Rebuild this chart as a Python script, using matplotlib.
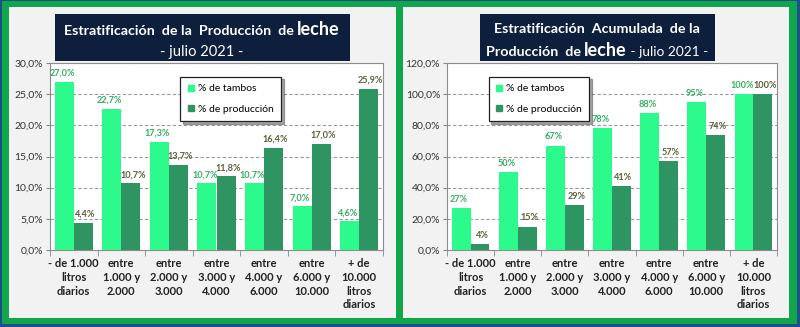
import numpy as np
import matplotlib
matplotlib.use('Agg')
import matplotlib.pyplot as plt
from matplotlib.patches import Rectangle
from matplotlib.lines import Line2D

plt.rcParams['font.family'] = ['Lato', 'DejaVu Sans']

# datos
categorias = ['- de 1.000\nlitros\ndiarios', 'entre\n1.000 y\n2.000', 'entre\n2.000 y\n3.000',
              'entre\n3.000 y\n4.000', 'entre\n4.000 y\n6.000', 'entre\n6.000 y\n10.000',
              '+ de\n10.000\nlitros\ndiarios']
tambos = [27.0, 22.7, 17.3, 10.7, 10.7, 7.0, 4.6]
produccion = [4.4, 10.7, 13.7, 11.8, 16.4, 17.0, 25.9]
tambos_acum = [27, 50, 67, 78, 88, 95, 100]
produccion_acum = [4, 15, 29, 41, 57, 74, 100]
series = ['% de tambos', '% de producción']

# colores
AZUL = '#1d4f8c'
VERDE_MARCO = '#0fa64c'
GRIS = '#f2f2f2'
NAVY = '#0e1f3d'
CLARO = '#2cfa8c'
OSCURO = '#2e9462'
TXT_CLARO = '#33b060'
TXT_OSCURO = '#5e5e3a'

W, H = 800, 327
fig = plt.figure(figsize=(W / 100, H / 100), dpi=100, facecolor=AZUL)


def caja(x0, y0, x1, y1):
    return [x0 / W, 1 - y1 / H, (x1 - x0) / W, (y1 - y0) / H]


def rect(x0, y0, x1, y1, color):
    fig.add_artist(Rectangle((x0 / W, 1 - y1 / H), (x1 - x0) / W, (y1 - y0) / H,
                             transform=fig.transFigure, facecolor=color,
                             edgecolor='none', zorder=0))


# marcos
rect(2, 1, 797, 324, VERDE_MARCO)
rect(9, 7, 396, 318, GRIS)
rect(403, 7, 789, 318, GRIS)
rect(55, 14, 350, 61, NAVY)
rect(480, 14, 715, 61, NAVY)

renderer = fig.canvas.get_renderer()


def linea(partes, xc, y):
    # escribe trozos de texto seguidos, centrados en xc (px)
    textos = []
    for s, kw in partes:
        t = fig.text(0, 1 - y / H, s, color='white', va='baseline', ha='left', **kw)
        textos.append(t)
    anchos = [t.get_window_extent(renderer).width for t in textos]
    x = xc - sum(anchos) / 2
    for t, a in zip(textos, anchos):
        t.set_x(x / W)
        x += a


linea([('Estratificación  de la  Producción  de ', dict(fontsize=10.3, fontweight='bold')),
       ('leche', dict(fontsize=13, fontweight='bold'))], 202, 35)
linea([('- julio 2021 -', dict(fontsize=10.5))], 202, 56)
linea([('Estratificación  Acumulada  de la', dict(fontsize=10.3, fontweight='bold'))], 597, 33)
linea([('Producción  de ', dict(fontsize=10.3, fontweight='bold')),
       ('leche', dict(fontsize=13, fontweight='bold')),
       (' - julio 2021 -', dict(fontsize=9.8))], 597, 56)


def panel(pos, t, p, ymax, paso, fmt_eje, fmt_dato, leg_x):
    ax = fig.add_axes(caja(*pos))
    ax.set_facecolor('white')
    x = np.arange(len(categorias))
    b1 = ax.bar(x - 0.2, t, 0.4, color=CLARO, zorder=3)
    b2 = ax.bar(x + 0.2, p, 0.4, color=OSCURO, zorder=3)
    for barras, vals, c, dx in ((b1, t, TXT_CLARO, -1.5), (b2, p, TXT_OSCURO, 1.5)):
        for b, v in zip(barras, vals):
            ax.annotate(fmt_dato(v), (b.get_x() + b.get_width() / 2, v),
                        xytext=(dx, 3), textcoords='offset points', ha='center',
                        va='bottom', fontsize=6.6, fontweight='bold', color=c, zorder=5)
    ax.set_xlim(-0.5, len(categorias) - 0.5)
    ax.set_ylim(0, ymax)
    ticks = np.arange(0, ymax + paso / 2, paso)
    ax.set_yticks(ticks)
    ax.set_yticklabels([fmt_eje(v) for v in ticks], fontsize=7.5, color='#333333')
    ax.yaxis.grid(True, color='#999999', linestyle=(0, (3, 2)), linewidth=0.8, zorder=1)
    ax.set_axisbelow(True)
    ax.set_xticks(x)
    ax.set_xticklabels(categorias, fontsize=8, fontweight='bold', color='#222222',
                       linespacing=1.3)
    ax.tick_params(axis='x', length=0, pad=6)
    ax.set_xticks(np.arange(-0.5, len(categorias)), minor=True)
    ax.tick_params(axis='x', which='minor', length=4, color='#888888')
    ax.tick_params(axis='y', length=3, color='#888888', pad=2)
    for s in ax.spines.values():
        s.set_color('#8c8c8c')
        s.set_linewidth(0.8)
    handles = [Line2D([], [], marker='s', linestyle='none', markersize=5,
                      color=CLARO),
               Line2D([], [], marker='s', linestyle='none', markersize=5,
                      color=OSCURO)]
    leg = ax.legend(handles, series, loc='upper left', bbox_to_anchor=(leg_x, 0.955),
                    fontsize=7.5, frameon=True, fancybox=False, shadow=True,
                    handlelength=0.6, handletextpad=0.4, labelspacing=1.1,
                    borderpad=0.7)
    leg.get_frame().set_edgecolor('#222222')
    leg.get_frame().set_linewidth(0.9)
    leg.set_zorder(6)
    return ax


panel((50, 63, 383, 250), tambos, produccion, 30, 5,
      lambda v: f'{v:.1f}%'.replace('.', ','),
      lambda v: f'{v:.1f}%'.replace('.', ','), 0.375)
panel((447, 63, 777, 250), tambos_acum, produccion_acum, 120, 20,
      lambda v: f'{v:.1f}%'.replace('.', ','),
      lambda v: f'{v:.0f}%', 0.11)

fig.savefig('out.png', dpi=100, facecolor=AZUL)
